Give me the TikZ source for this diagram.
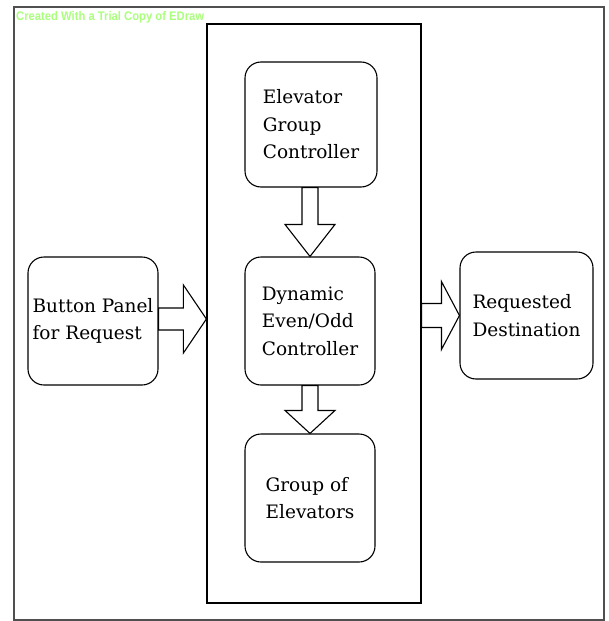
\documentclass[tikz,border=0pt]{standalone}
\usepackage{fontspec}
\usepackage{xcolor}
\usetikzlibrary{calc}
\setmainfont{DejaVu Serif}
\newfontfamily\wmfont{Liberation Sans}
\definecolor{trialgreen}{RGB}{170,255,125}
\definecolor{framegray}{RGB}{80,80,80}

\tikzset{
  unit/.style={draw, line width=1.1pt, rounded corners=16pt, inner sep=0pt,
    align=left, font=\fontsize{18.5}{27.5}\selectfont},
  blockarrow/.style={draw, line width=1.1pt, fill=white, line join=miter}
}

\begin{document}
\begin{tikzpicture}[x=1pt,y=-1pt]
      \useasboundingbox (0,0) rectangle (608,621);
      % Outer frame and watermark
      \draw[framegray, line width=1.8pt] (14,7) rectangle (604,620);
      \node[anchor=west, inner sep=0pt, text=trialgreen, font=\wmfont\bfseries\fontsize{12.5}{12.5}\selectfont, xscale=0.9] (trial) at (16,17.5) {Created With a Trial Copy of EDraw};
      % Controller panel
      \node[draw, line width=1.2pt, minimum width=214pt, minimum height=579pt, inner sep=0pt] (ctrl) at (314,313.5) {};
      % Units
      \node[unit, minimum width=132pt, minimum height=125pt] (egc) at (311,124.5) {Elevator\\Group\\Controller};
      \node[unit, minimum width=130pt, minimum height=128pt] (dyn) at (310,321) {Dynamic\\Even/Odd\\Controller};
      \node[unit, minimum width=130pt, minimum height=128pt] (grp) at (310,498) {Group of\\Elevators};
      \node[unit, minimum width=130pt, minimum height=128pt] (btn) at (93,321) {Button Panel\\for Request};
      \node[unit, minimum width=133pt, minimum height=127pt] (dest) at (526.5,315.5) {Requested\\Destination};
      % Block arrows
      \coordinate (egcout) at (egc.south -| dyn.north);
      \draw[blockarrow] ($(egcout)+(-8,0)$) -- ($(dyn.north)+(-8,-32)$) -- ($(dyn.north)+(-25,-32)$) -- (dyn.north)
        -- ($(dyn.north)+(25,-32)$) -- ($(dyn.north)+(8,-32)$) -- ($(egcout)+(8,0)$) -- cycle;
      \draw[blockarrow] ($(dyn.south)+(-8,0)$) -- ($(grp.north)+(-8,-23)$) -- ($(grp.north)+(-25,-23)$) -- (grp.north)
        -- ($(grp.north)+(25,-23)$) -- ($(grp.north)+(8,-23)$) -- ($(dyn.south)+(8,0)$) -- cycle;
      \coordinate (intip) at (ctrl.west |- 0,319);
      \draw[blockarrow] ($(btn.east |- intip)+(0,-11)$) -- ($(intip)+(-23,-11)$) -- ($(intip)+(-23,-34)$) -- (intip)
        -- ($(intip)+(-23,34)$) -- ($(intip)+(-23,11)$) -- ($(btn.east |- intip)+(0,11)$) -- cycle;
      \coordinate (outtail) at (ctrl.east |- dest.west);
      \draw[blockarrow] ($(outtail)+(0,-12)$) -- ($(dest.west)+(-18,-12)$) -- ($(dest.west)+(-18,-34)$) -- (dest.west)
        -- ($(dest.west)+(-18,34)$) -- ($(dest.west)+(-18,12)$) -- ($(outtail)+(0,12)$) -- cycle;
    \end{tikzpicture}
\end{document}
